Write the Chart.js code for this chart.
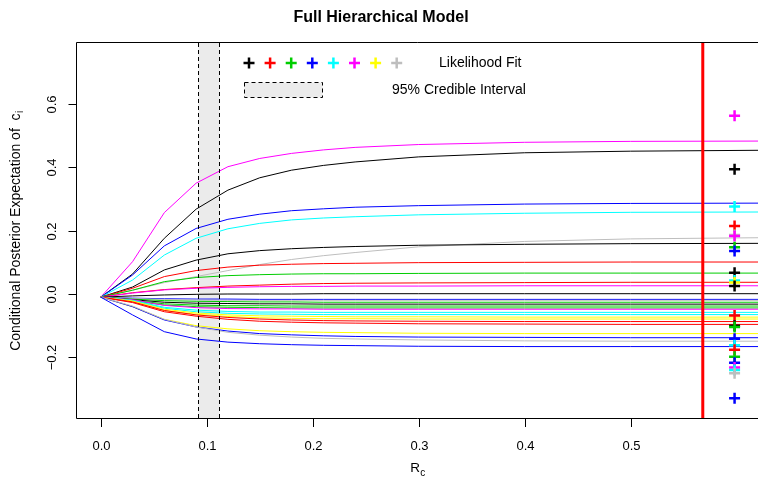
<!DOCTYPE html>
<html>
<head>
<meta charset="utf-8">
<script src="https://cdn.jsdelivr.net/npm/chart.js@4.4.1/dist/chart.umd.min.js"></script>
<style>
  html, body { margin: 0; padding: 0; background: #ffffff; }
  canvas { display: block; }
</style>
</head>
<body>
<canvas id="hierChart" width="758" height="484"></canvas>
<script>
// R_c grid where the conditional posterior expectations were evaluated
const rcGrid = [0, 0.03, 0.06, 0.09, 0.12, 0.15, 0.18, 0.21, 0.24, 0.3, 0.4, 0.5, 0.63];

const curveColors = [
  "magenta", "black", "blue", "cyan", "gray", "black", "red", "green3",
  "red", "magenta", "black", "blue", "gray", "green3", "black", "green3",
  "green3", "magenta", "cyan", "cyan", "yellow", "yellow", "red", "red",
  "yellow", "blue", "gray", "blue",
];

const curveValues = [
  [-0.01, 0.102, 0.257, 0.35, 0.402, 0.428, 0.444, 0.455, 0.463, 0.472, 0.479, 0.482, 0.483],
  [-0.01, 0.063, 0.176, 0.268, 0.328, 0.367, 0.391, 0.406, 0.417, 0.433, 0.446, 0.451, 0.454],
  [-0.01, 0.06, 0.152, 0.207, 0.236, 0.252, 0.263, 0.269, 0.274, 0.279, 0.284, 0.286, 0.287],
  [-0.01, 0.044, 0.123, 0.176, 0.206, 0.223, 0.234, 0.24, 0.244, 0.25, 0.255, 0.258, 0.259],
  [-0.01, 0.012, 0.036, 0.055, 0.074, 0.093, 0.109, 0.121, 0.131, 0.149, 0.166, 0.174, 0.178],
  [-0.01, 0.022, 0.076, 0.107, 0.127, 0.137, 0.143, 0.147, 0.15, 0.154, 0.157, 0.159, 0.16],
  [-0.01, 0.018, 0.055, 0.074, 0.085, 0.091, 0.094, 0.096, 0.097, 0.099, 0.1, 0.101, 0.101],
  [-0.01, 0.012, 0.039, 0.052, 0.058, 0.061, 0.063, 0.064, 0.064, 0.065, 0.066, 0.066, 0.066],
  [-0.01, 0.004, 0.014, 0.02, 0.025, 0.028, 0.031, 0.033, 0.034, 0.035, 0.036, 0.037, 0.037],
  [-0.01, 0.003, 0.013, 0.018, 0.021, 0.023, 0.024, 0.024, 0.025, 0.025, 0.026, 0.026, 0.026],
  [-0.01, -0.006, -0.003, -0.001, 0, 0, 0, 0.001, 0.001, 0.001, 0.001, 0.001, 0.001],
  [-0.01, -0.013, -0.015, -0.016, -0.016, -0.017, -0.017, -0.017, -0.017, -0.017, -0.017, -0.017, -0.017],
  [-0.01, -0.014, -0.017, -0.019, -0.02, -0.02, -0.02, -0.02, -0.02, -0.02, -0.02, -0.02, -0.02],
  [-0.01, -0.016, -0.021, -0.023, -0.024, -0.025, -0.025, -0.026, -0.026, -0.026, -0.026, -0.026, -0.026],
  [-0.01, -0.018, -0.026, -0.029, -0.03, -0.031, -0.031, -0.032, -0.032, -0.032, -0.032, -0.032, -0.032],
  [-0.01, -0.02, -0.031, -0.035, -0.037, -0.037, -0.038, -0.038, -0.038, -0.038, -0.038, -0.038, -0.038],
  [-0.01, -0.021, -0.035, -0.04, -0.042, -0.043, -0.044, -0.044, -0.044, -0.044, -0.044, -0.044, -0.044],
  [-0.01, -0.018, -0.036, -0.043, -0.046, -0.047, -0.047, -0.048, -0.048, -0.048, -0.048, -0.048, -0.048],
  [-0.01, -0.02, -0.042, -0.051, -0.055, -0.057, -0.057, -0.058, -0.058, -0.058, -0.058, -0.058, -0.058],
  [-0.01, -0.021, -0.045, -0.056, -0.061, -0.063, -0.064, -0.065, -0.065, -0.065, -0.065, -0.065, -0.065],
  [-0.01, -0.022, -0.048, -0.06, -0.066, -0.069, -0.07, -0.071, -0.072, -0.072, -0.073, -0.073, -0.073],
  [-0.01, -0.024, -0.052, -0.064, -0.071, -0.075, -0.077, -0.078, -0.078, -0.079, -0.079, -0.079, -0.079],
  [-0.01, -0.025, -0.052, -0.066, -0.074, -0.079, -0.082, -0.084, -0.085, -0.086, -0.087, -0.087, -0.087],
  [-0.01, -0.027, -0.056, -0.07, -0.08, -0.086, -0.089, -0.091, -0.092, -0.094, -0.095, -0.096, -0.096],
  [-0.01, -0.04, -0.08, -0.1, -0.11, -0.116, -0.119, -0.121, -0.122, -0.124, -0.125, -0.125, -0.125],
  [-0.01, -0.04, -0.082, -0.104, -0.117, -0.125, -0.129, -0.132, -0.134, -0.136, -0.137, -0.138, -0.138],
  [-0.01, -0.038, -0.08, -0.104, -0.121, -0.13, -0.136, -0.14, -0.142, -0.145, -0.148, -0.149, -0.149],
  [-0.01, -0.066, -0.119, -0.142, -0.152, -0.157, -0.16, -0.162, -0.163, -0.165, -0.166, -0.166, -0.166],
];

// likelihood fit estimates, plotted in one column on the right
const fitX = 0.598;
const fitColors = [
  "magenta", "black", "cyan", "red", "gray", "magenta", "green3", "blue",
  "black", "cyan", "yellow", "black", "red", "black", "green3", "blue",
  "cyan", "red", "green3", "blue", "magenta", "cyan", "gray", "blue",
];
const fitValues = [
  0.563, 0.394, 0.276, 0.215, 0.186, 0.183, 0.148, 0.136,
  0.067, 0.043, 0.036, 0.025, -0.068, -0.1, -0.104, -0.141,
  -0.162, -0.176, -0.198, -0.217, -0.232, -0.24, -0.25, -0.329,
];

const cutoffX = 0.568;
const credibleLow = 0.0918;
const credibleHigh = 0.1119;

const xTicks = [0, 0.1, 0.2, 0.3, 0.4, 0.5];
const yTicks = [-0.2, 0, 0.2, 0.4, 0.6];
const legendColors = ["black", "red", "green3", "blue", "cyan", "magenta", "yellow", "gray"];

const rPalette = {
  black: "#000000",
  red: "#FF0000",
  green3: "#00CD00",
  blue: "#0000FF",
  cyan: "#00FFFF",
  magenta: "#FF00FF",
  yellow: "#FFFF00",
  gray: "#BEBEBE",
};

const FONT = '"Liberation Sans", Arial, Helvetica, sans-serif';

function fmtTick(v) {
  const s = Math.abs(v).toFixed(1);
  return v < 0 ? "\u2212" + s : s;
}

function drawPlus(ctx, x, y, r, color, width) {
  ctx.strokeStyle = color;
  ctx.lineWidth = width;
  ctx.beginPath();
  ctx.moveTo(x - r, y);
  ctx.lineTo(x + r, y);
  ctx.moveTo(x, y - r);
  ctx.lineTo(x, y + r);
  ctx.stroke();
}

// R-like decorations: credible band, box, axes, labels and legend
const rStylePlugin = {
  id: "rStyle",
  beforeDatasetsDraw(chart) {
    const { ctx, chartArea: a, scales } = chart;
    const x0 = Math.round(scales.x.getPixelForValue(credibleLow)) + 0.5;
    const x1 = Math.round(scales.x.getPixelForValue(credibleHigh)) + 0.5;
    ctx.save();
    ctx.fillStyle = "#EBEBEB";
    ctx.fillRect(x0, a.top, x1 - x0, a.bottom - a.top);
    ctx.restore();
  },
  afterDatasetsDraw(chart) {
    const { ctx, chartArea: a, scales } = chart;
    const x0 = Math.round(scales.x.getPixelForValue(credibleLow)) + 0.5;
    const x1 = Math.round(scales.x.getPixelForValue(credibleHigh)) + 0.5;
    ctx.save();
    ctx.strokeStyle = "#000";
    ctx.lineWidth = 1;
    ctx.setLineDash([4, 3]);
    [x0, x1].forEach((px) => {
      ctx.beginPath();
      ctx.moveTo(px, a.top);
      ctx.lineTo(px, a.bottom);
      ctx.stroke();
    });
    ctx.restore();
  },
  afterDraw(chart) {
    const { ctx, chartArea: a, scales } = chart;
    const left = a.left - 0.5;
    const top = a.top - 0.5;
    const bottom = a.bottom - 0.5;

    ctx.save();
    ctx.strokeStyle = "#000";
    ctx.lineWidth = 1;
    ctx.setLineDash([]);

    // box (right side falls outside the picture)
    ctx.beginPath();
    ctx.moveTo(a.right, top);
    ctx.lineTo(left, top);
    ctx.lineTo(left, bottom);
    ctx.lineTo(a.right, bottom);
    ctx.stroke();

    ctx.fillStyle = "#000";
    ctx.font = "13px " + FONT;

    // x axis
    ctx.textAlign = "center";
    ctx.textBaseline = "middle";
    xTicks.forEach((v) => {
      const px = Math.round(scales.x.getPixelForValue(v)) + 0.5;
      ctx.beginPath();
      ctx.moveTo(px, bottom);
      ctx.lineTo(px, bottom + 8.5);
      ctx.stroke();
      ctx.fillText(fmtTick(v), px, 446);
    });

    // y axis, labels parallel to the axis
    yTicks.forEach((v) => {
      const py = Math.round(scales.y.getPixelForValue(v)) + 0.5;
      ctx.beginPath();
      ctx.moveTo(left, py);
      ctx.lineTo(left - 8, py);
      ctx.stroke();
      ctx.save();
      ctx.translate(52, py);
      ctx.rotate(-Math.PI / 2);
      ctx.fillText(fmtTick(v), 0, 0);
      ctx.restore();
    });

    // axis titles with subscripts
    const yMain = "Conditional Posterior Expectation of  c";
    ctx.font = "14px " + FONT;
    const wMain = ctx.measureText(yMain).width;
    ctx.font = "10px " + FONT;
    const wSub = ctx.measureText("i").width;
    ctx.save();
    ctx.translate(16, (a.top + a.bottom) / 2);
    ctx.rotate(-Math.PI / 2);
    ctx.textAlign = "left";
    ctx.font = "14px " + FONT;
    const startY = -(wMain + wSub) / 2;
    ctx.fillText(yMain, startY, 0);
    ctx.font = "10px " + FONT;
    ctx.fillText("i", startY + wMain + 0.5, 4);
    ctx.restore();

    ctx.font = "13.5px " + FONT;
    const wR = ctx.measureText("R").width;
    ctx.font = "10px " + FONT;
    const wC = ctx.measureText("c").width;
    const xStart = (a.left + a.right) / 2 - (wR + wC) / 2;
    ctx.textAlign = "left";
    ctx.font = "13.5px " + FONT;
    ctx.fillText("R", xStart, 468);
    ctx.font = "10px " + FONT;
    ctx.fillText("c", xStart + wR + 0.5, 473);

    // title
    ctx.textAlign = "center";
    ctx.font = "bold 16px " + FONT;
    ctx.fillText("Full Hierarchical Model", 381, 18);

    // legend
    legendColors.forEach((c, i) => {
      drawPlus(ctx, 249 + i * 21.1, 63, 5.5, rPalette[c], 2.5);
    });
    ctx.fillStyle = "#000";
    ctx.textAlign = "left";
    ctx.font = "14px " + FONT;
    ctx.fillText("Likelihood Fit", 439, 63.5);
    ctx.fillStyle = "#EBEBEB";
    ctx.fillRect(244.5, 82.5, 78, 15);
    ctx.strokeStyle = "#000";
    ctx.lineWidth = 1;
    ctx.setLineDash([4, 3]);
    ctx.strokeRect(244.5, 82.5, 78, 15);
    ctx.setLineDash([]);
    ctx.fillStyle = "#000";
    ctx.fillText("95% Credible Interval", 392, 90.5);
    ctx.restore();
  },
};

function buildDatasets() {
  const n = curveValues.length;
  const curves = curveValues.map((vals, i) => ({
    label: "unit " + (i + 1),
    data: vals.map((v, j) => ({ x: rcGrid[j], y: v })),
    showLine: true,
    borderColor: rPalette[curveColors[i]],
    borderWidth: 1,
    pointRadius: 0,
    tension: 0,
    order: 2 + (n - i),
  }));

  const cutoff = {
    label: "cutoff",
    data: [
      { x: cutoffX, y: -1 },
      { x: cutoffX, y: 1 },
    ],
    showLine: true,
    borderColor: "#FF0000",
    borderWidth: 3,
    pointRadius: 0,
    order: 1,
  };

  const fits = {
    label: "Likelihood Fit",
    data: fitValues.map((v) => ({ x: fitX, y: v })),
    showLine: false,
    pointStyle: "cross",
    pointRadius: 5.5,
    pointBorderWidth: 2.5,
    pointBorderColor: fitColors.map((c) => rPalette[c]),
    pointBackgroundColor: fitColors.map((c) => rPalette[c]),
    order: 0,
  };

  return curves.concat([cutoff, fits]);
}

const ctx = document.getElementById("hierChart").getContext("2d");
new Chart(ctx, {
  type: "scatter",
  data: { datasets: buildDatasets() },
  options: {
    responsive: false,
    animation: false,
    layout: { autoPadding: false, padding: { left: 77, top: 43, right: 0, bottom: 65 } },
    plugins: {
      legend: { display: false },
      tooltip: { enabled: false },
      title: { display: false },
    },
    scales: {
      x: { type: "linear", min: -0.0224, max: 0.6201, display: false },
      y: { type: "linear", min: -0.3947, max: 0.7926, display: false },
    },
  },
  plugins: [rStylePlugin],
});
</script>
</body>
</html>
